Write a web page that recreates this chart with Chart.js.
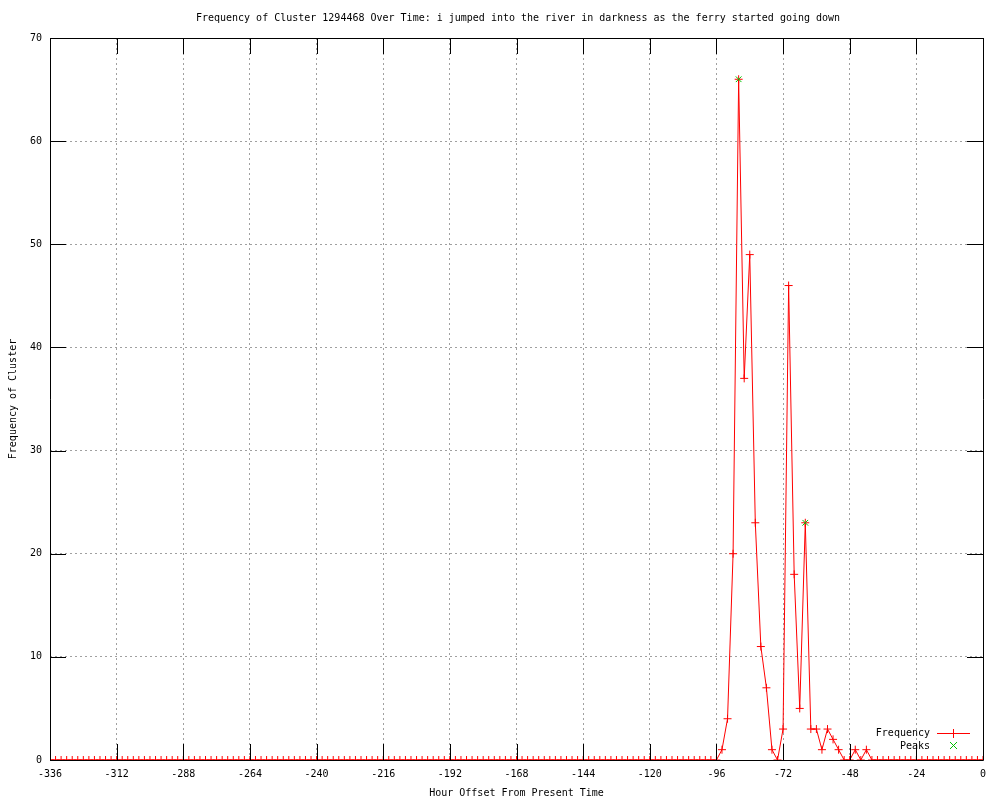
<!DOCTYPE html>
<html>
<head>
<meta charset="utf-8">
<script src="https://cdn.jsdelivr.net/npm/chart.js@4/dist/chart.umd.min.js"></script>
<style>
html,body{margin:0;padding:0;background:#fff;}
#wrap{width:1000px;height:800px;position:relative;}
</style>
</head>
<body>
<div id="wrap"><canvas id="c" width="1000" height="800"></canvas></div>
<script>
const chartTitle = "Frequency of Cluster 1294468 Over Time: i jumped into the river in darkness as the ferry started going down";
const xAxisTitle = "Hour Offset From Present Time";
const yAxisTitle = "Frequency of Cluster";

const hours = [
-336,-334,-332,-330,-328,-326,-324,-322,-320,-318,-316,-314,-312,-310,-308,-306,-304,-302,-300,-298,
-296,-294,-292,-290,-288,-286,-284,-282,-280,-278,-276,-274,-272,-270,-268,-266,-264,-262,-260,-258,
-256,-254,-252,-250,-248,-246,-244,-242,-240,-238,-236,-234,-232,-230,-228,-226,-224,-222,-220,-218,
-216,-214,-212,-210,-208,-206,-204,-202,-200,-198,-196,-194,-192,-190,-188,-186,-184,-182,-180,-178,
-176,-174,-172,-170,-168,-166,-164,-162,-160,-158,-156,-154,-152,-150,-148,-146,-144,-142,-140,-138,
-136,-134,-132,-130,-128,-126,-124,-122,-120,-118,-116,-114,-112,-110,-108,-106,-104,-102,-100,-98,
-96,-94,-92,-90,-88,-86,-84,-82,-80,-78,-76,-74,-72,-70,-68,-66,-64,-62,-60,-58,
-56,-54,-52,-50,-48,-46,-44,-42,-40,-38,-36,-34,-32,-30,-28,-26,-24,-22,-20,-18,
-16,-14,-12,-10,-8,-6,-4,-2,0
];
const frequency = [
0,0,0,0,0,0,0,0,0,0,0,0,0,0,0,0,0,0,0,0,
0,0,0,0,0,0,0,0,0,0,0,0,0,0,0,0,0,0,0,0,
0,0,0,0,0,0,0,0,0,0,0,0,0,0,0,0,0,0,0,0,
0,0,0,0,0,0,0,0,0,0,0,0,0,0,0,0,0,0,0,0,
0,0,0,0,0,0,0,0,0,0,0,0,0,0,0,0,0,0,0,0,
0,0,0,0,0,0,0,0,0,0,0,0,0,0,0,0,0,0,0,0,
0,1,4,20,66,37,49,23,11,7,1,0,3,46,18,5,23,3,3,1,
3,2,1,0,0,1,0,1,0,0,0,0,0,0,0,0,0,0,0,0,
0,0,0,0,0,0,0,0,0
];
const peakHours = [-88, -64];
const peakValues = [66, 23];

const xTickMin = -336, xTickMax = 0, xTickStep = 24;
const yTickMin = 0, yTickMax = 70, yTickStep = 10;

const FONT = "'DejaVu Sans Mono', monospace";

const freqData = hours.map((h, i) => ({x: h, y: frequency[i]}));
const peakData = peakHours.map((h, i) => ({x: h, y: peakValues[i]}));

const framePlugin = {
  id: 'frame',
  afterDatasetsDraw(chart) {
    const ctx = chart.ctx;
    const a = chart.chartArea;
    const xs = chart.scales.x, ys = chart.scales.y;
    ctx.save();
    ctx.strokeStyle = '#000';
    ctx.lineWidth = 1;
    ctx.setLineDash([]);
    ctx.beginPath();
    ctx.rect(Math.round(a.left) + 0.5, Math.round(a.top) + 0.5, Math.round(a.right - a.left), Math.round(a.bottom - a.top));
    ctx.stroke();
    const tl = 16;
    ctx.beginPath();
    xs.ticks.forEach(t => {
      const px = Math.round(xs.getPixelForValue(t.value)) + 0.5;
      ctx.moveTo(px, a.bottom); ctx.lineTo(px, a.bottom - tl);
      ctx.moveTo(px, a.top); ctx.lineTo(px, a.top + tl);
    });
    ys.ticks.forEach(t => {
      const py = Math.round(ys.getPixelForValue(t.value)) + 0.5;
      ctx.moveTo(a.left, py); ctx.lineTo(a.left + tl, py);
      ctx.moveTo(a.right, py); ctx.lineTo(a.right - tl, py);
    });
    ctx.stroke();
    ctx.restore();
  },
  afterDraw(chart) {
    const ctx = chart.ctx;
    const a = chart.chartArea;
    ctx.save();
    ctx.setLineDash([]);
    ctx.fillStyle = '#000';
    ctx.font = '10px ' + FONT;
    ctx.textBaseline = 'middle';
    ctx.textAlign = 'center';
    ctx.fillText(chartTitle, 518, 18);
    ctx.fillText(xAxisTitle, (a.left + a.right) / 2, 793);
    ctx.save();
    ctx.translate(13, (a.top + a.bottom) / 2);
    ctx.rotate(-Math.PI / 2);
    ctx.fillText(yAxisTitle, 0, 0);
    ctx.restore();
    // legend
    ctx.textAlign = 'right';
    ctx.fillText('Frequency', 930, 733);
    ctx.fillText('Peaks', 930, 746);
    ctx.lineWidth = 1;
    ctx.strokeStyle = 'rgb(255,0,0)';
    ctx.beginPath();
    ctx.moveTo(937, 733.5); ctx.lineTo(970, 733.5);
    ctx.stroke();
    ctx.beginPath();
    ctx.moveTo(953.5, 729); ctx.lineTo(953.5, 738);
    ctx.stroke();
    ctx.strokeStyle = 'rgb(0,192,0)';
    ctx.beginPath();
    ctx.moveTo(950, 742); ctx.lineTo(957, 749);
    ctx.moveTo(957, 742); ctx.lineTo(950, 749);
    ctx.stroke();
    ctx.restore();
  }
};

new Chart(document.getElementById('c'), {
  type: 'scatter',
  data: {
    datasets: [
      {
        label: 'Frequency',
        data: freqData,
        showLine: true,
        borderColor: '#ff0000',
        backgroundColor: '#ff0000',
        borderWidth: 1,
        pointStyle: 'cross',
        pointRadius: 4,
        pointBorderWidth: 1,
        pointHoverRadius: 4,
        tension: 0,
        order: 2
      },
      {
        label: 'Peaks',
        data: peakData,
        showLine: false,
        borderColor: '#00c000',
        backgroundColor: '#00c000',
        pointStyle: 'crossRot',
        pointRadius: 4,
        pointBorderWidth: 1,
        pointHoverRadius: 4,
        order: 1
      }
    ]
  },
  options: {
    responsive: false,
    animation: false,
    events: [],
    layout: { padding: { top: 38, right: 17, left: 0, bottom: 0 } },
    plugins: {
      legend: { display: false },
      title: { display: false },
      tooltip: { enabled: false }
    },
    scales: {
      x: {
        type: 'linear',
        min: xTickMin, max: xTickMax,
        afterFit(s) { s.height = 40; },
        ticks: {
          stepSize: xTickStep,
          color: '#000',
          font: { family: FONT, size: 10 },
          padding: 8,
          maxRotation: 0,
          autoSkip: false,
          callback: v => String(v)
        },
        grid: {
          color: '#a0a0a0',
          lineWidth: 1,
          drawTicks: false,
          tickLength: 0
        },
        border: { display: false, dash: [2, 3] }
      },
      y: {
        type: 'linear',
        min: yTickMin, max: yTickMax,
        afterFit(s) { s.width = 50; },
        ticks: {
          stepSize: yTickStep,
          color: '#000',
          font: { family: FONT, size: 10 },
          padding: 8,
          callback: v => String(v)
        },
        grid: {
          color: '#a0a0a0',
          lineWidth: 1,
          drawTicks: false,
          tickLength: 0
        },
        border: { display: false, dash: [2, 3] }
      }
    }
  },
  plugins: [framePlugin]
});
</script>
</body>
</html>
